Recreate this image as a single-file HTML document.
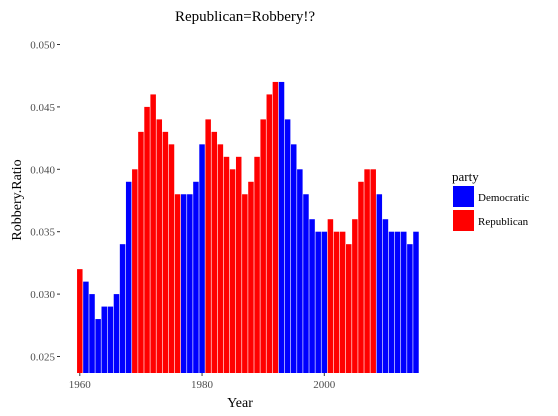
<!DOCTYPE html>
<html><head><meta charset="utf-8"><style>
body{margin:0;background:#fff;}
svg{display:block;font-family:"Liberation Serif",serif;}
</style></head><body>
<svg id="chart" width="558" height="416">
<text x="245" y="21" font-size="15" text-anchor="middle">Republican=Robbery!?</text>
<g id="bars"></g>
<g id="yaxis"></g>
<g id="xaxis"></g>
<text x="240" y="407" font-size="14" text-anchor="middle">Year</text>
<text transform="translate(21,200) rotate(-90)" font-size="14" text-anchor="middle">Robbery.Ratio</text>
<g>
<text x="452" y="181" font-size="13">party</text>
<rect x="453" y="186" width="21" height="21" fill="#0000FF"/>
<text x="478" y="201" font-size="11">Democratic</text>
<rect x="453" y="210" width="21" height="21" fill="#FF0000"/>
<text x="478" y="225" font-size="11">Republican</text>
</g>
</svg>
<script>
const years = [];
for (let y = 1960; y <= 2015; y++) years.push(y);
const ratios = [0.032,0.031,0.030,0.028,0.029,0.029,0.030,0.034,0.039,0.040,
0.043,0.045,0.046,0.044,0.043,0.042,0.038,0.038,0.038,0.039,
0.042,0.044,0.043,0.042,0.041,0.040,0.041,0.038,0.039,0.041,
0.044,0.046,0.047,0.047,0.044,0.042,0.040,0.038,0.036,0.035,
0.035,0.036,0.035,0.035,0.034,0.036,0.039,0.040,0.040,0.038,
0.036,0.035,0.035,0.035,0.034,0.035];
const parties = "RDDDDDDDDRRRRRRRRDDDDRRRRRRRRRRRRDDDDDDDDRRRRRRRRDDDDDDD".split("");
const yTicks = [0.025,0.030,0.035,0.040,0.045,0.050];
const xTicks = [1960,1980,2000];

const NS = "http://www.w3.org/2000/svg";
const xScale = v => 79.8 + (v - 1960) * (324.3 - 79.8) / 40;
const yScale = v => 44.5 + (0.050 - v) * (356.5 - 44.5) / 0.025;
const baseY = 373;
const bw = 6.11 * 0.9;
const bars = document.getElementById("bars");
years.forEach((yr, i) => {
  const r = document.createElementNS(NS, "rect");
  const top = yScale(ratios[i]);
  r.setAttribute("x", xScale(yr) - bw / 2);
  r.setAttribute("y", top);
  r.setAttribute("width", bw);
  r.setAttribute("height", baseY - top);
  r.setAttribute("fill", parties[i] === "R" ? "#FF0000" : "#0000FF");
  
  
  bars.appendChild(r);
});
const ya = document.getElementById("yaxis");
yTicks.forEach(t => {
  const y = yScale(t);
  const l = document.createElementNS(NS, "line");
  l.setAttribute("x1", 57); l.setAttribute("x2", 60);
  l.setAttribute("y1", y); l.setAttribute("y2", y);
  l.setAttribute("stroke", "#333");
  
  
  ya.appendChild(l);
  const tx = document.createElementNS(NS, "text");
  tx.setAttribute("x", 55); tx.setAttribute("y", y + 4);
  tx.setAttribute("text-anchor", "end");
  tx.setAttribute("font-size", "11");
  tx.setAttribute("fill", "#4d4d4d");
  tx.textContent = t.toFixed(3);
  
  
  ya.appendChild(tx);
});
const xa = document.getElementById("xaxis");
xTicks.forEach(t => {
  const x = xScale(t);
  const l = document.createElementNS(NS, "line");
  l.setAttribute("x1", x); l.setAttribute("x2", x);
  l.setAttribute("y1", 373); l.setAttribute("y2", 376);
  l.setAttribute("stroke", "#333");
  
  
  xa.appendChild(l);
  const tx = document.createElementNS(NS, "text");
  tx.setAttribute("x", x); tx.setAttribute("y", 388);
  tx.setAttribute("text-anchor", "middle");
  tx.setAttribute("font-size", "11");
  tx.setAttribute("fill", "#4d4d4d");
  tx.textContent = t;
  
  
  xa.appendChild(tx);
});
</script>
</body></html>
